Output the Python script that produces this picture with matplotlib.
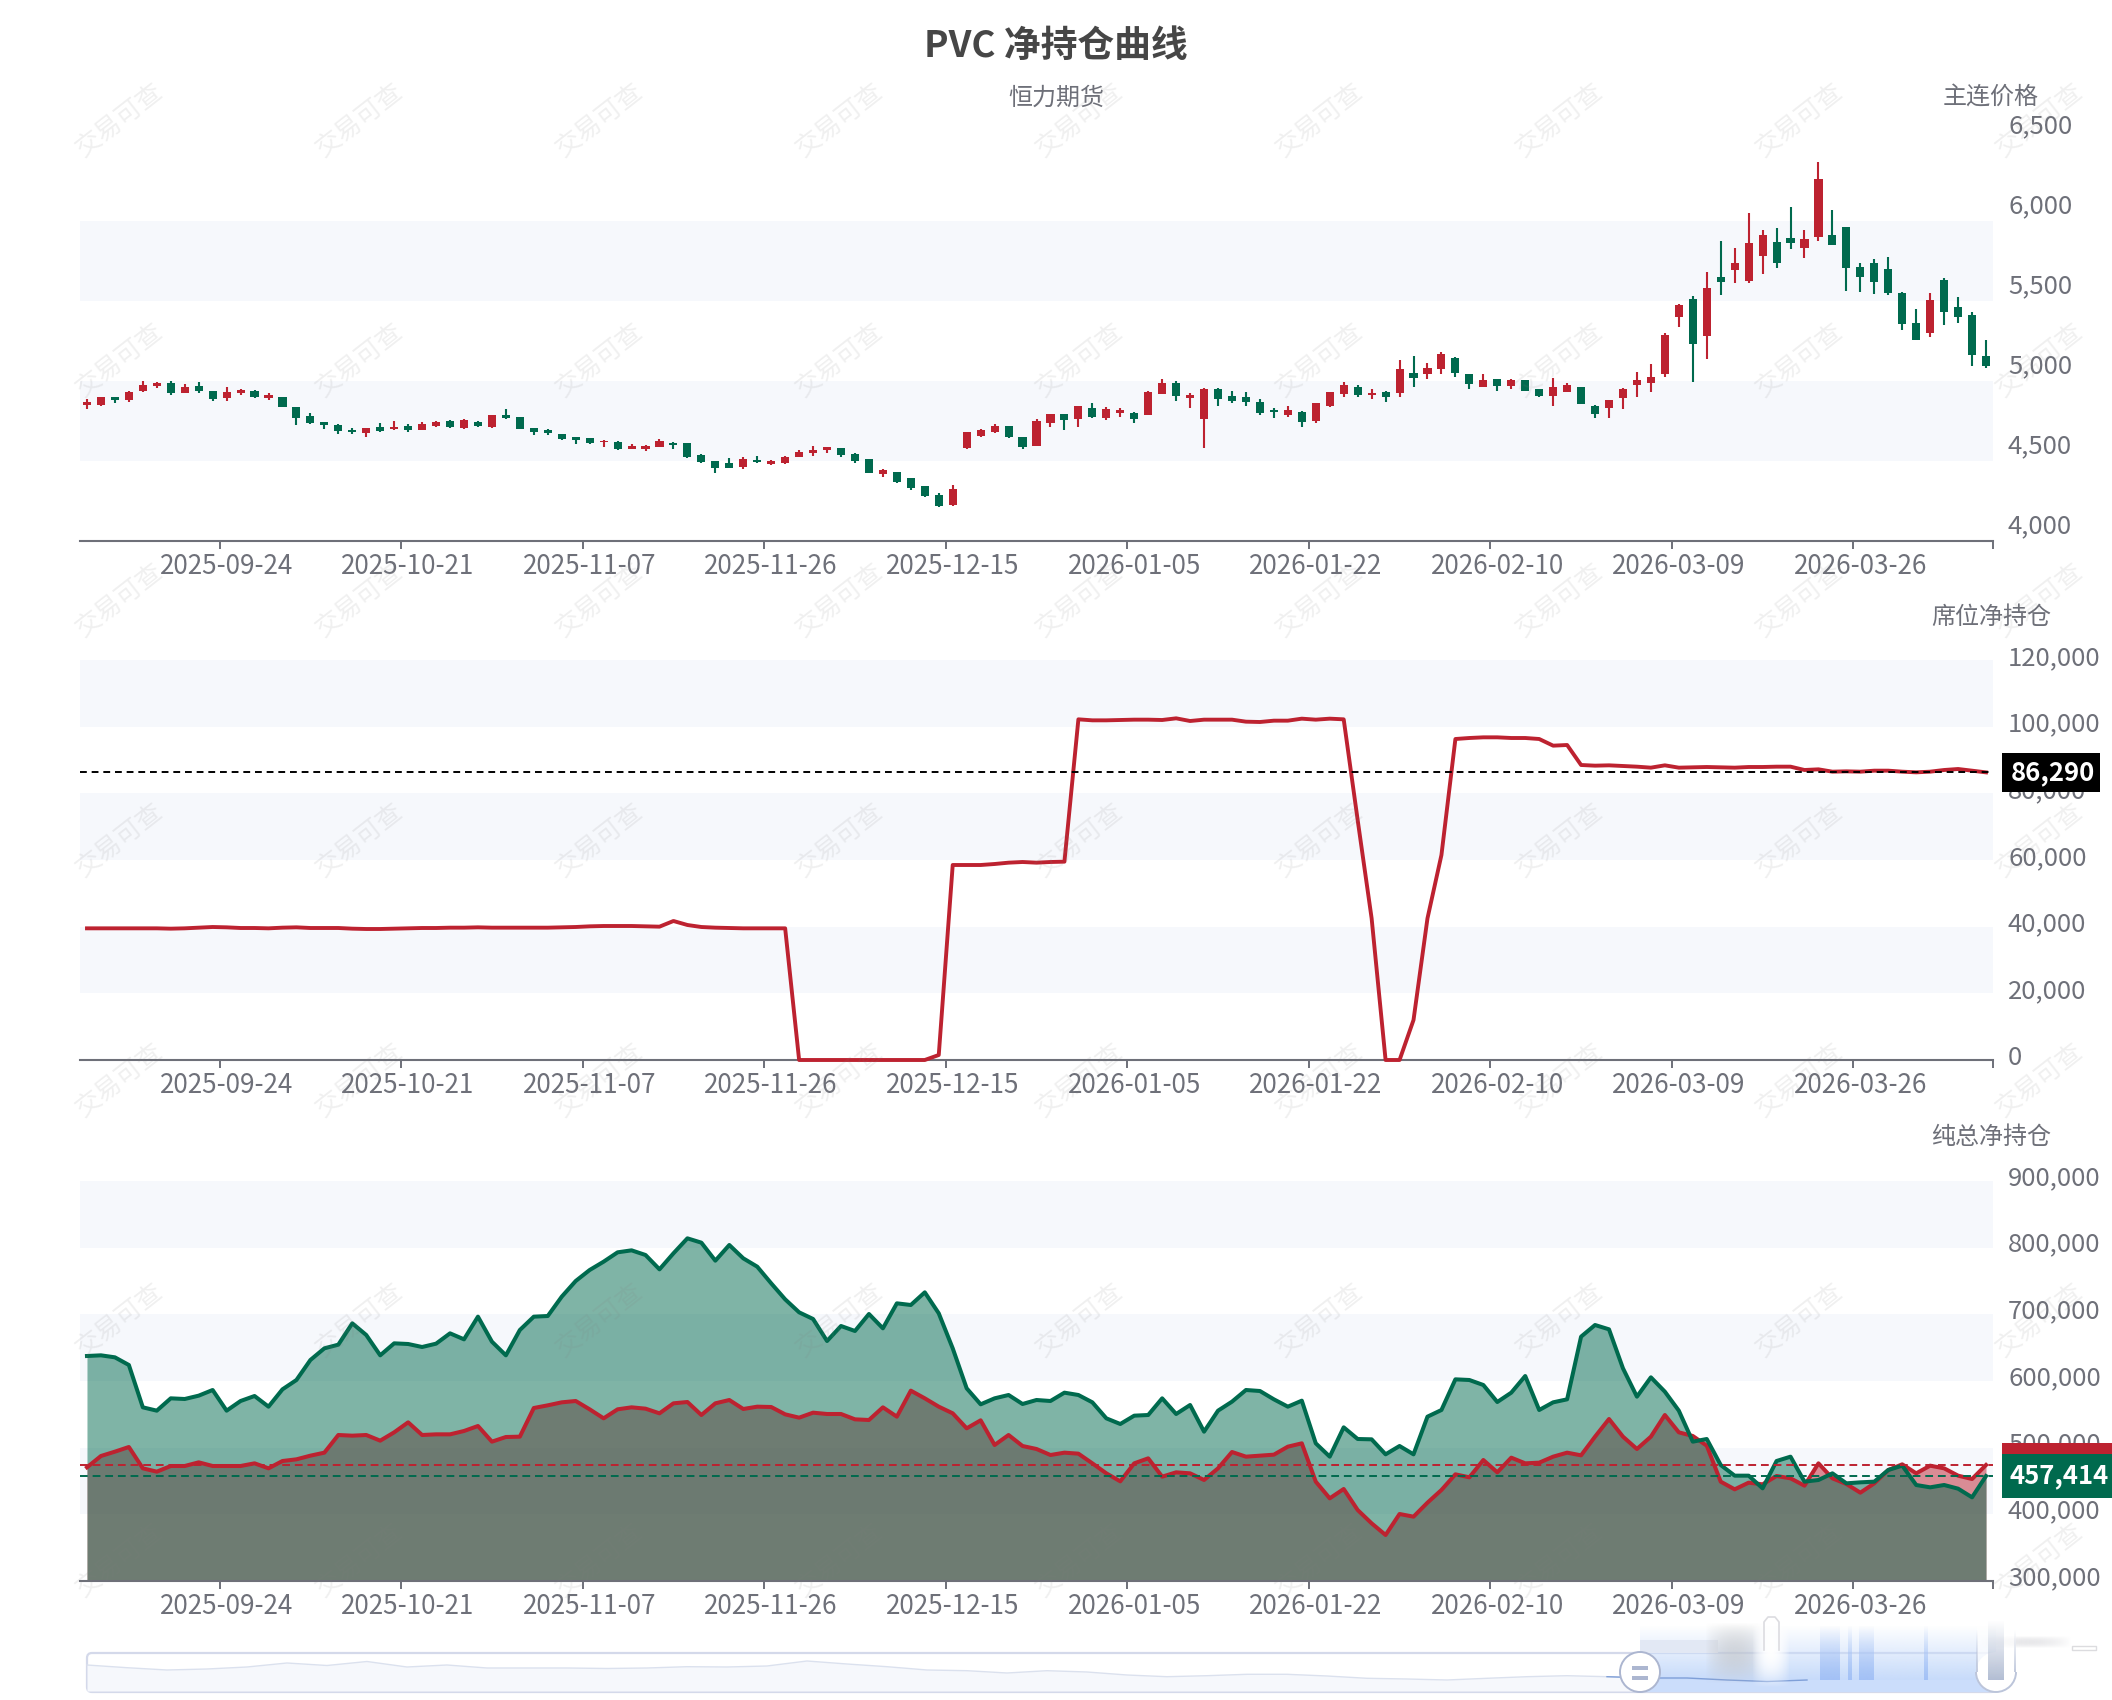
import numpy as np
import matplotlib
matplotlib.use('Agg')
import matplotlib.pyplot as plt
from matplotlib.colors import to_rgb
from matplotlib.patches import Rectangle, FancyBboxPatch, Circle, Arc

plt.rcParams['font.family'] = ['Noto Sans CJK SC', 'DejaVu Sans']

W, H = 2112, 1700
RED = '#bd2230'
GREEN = '#006a4e'
GRAY = '#6e7079'
BAND = '#f6f8fc'

# --- Data ---
tick_idx = [10, 23, 36, 49, 62, 75, 88, 101, 114, 127]
tick_dates = ['2025-09-24', '2025-10-21', '2025-11-07', '2025-11-26', '2025-12-15',
              '2026-01-05', '2026-01-22', '2026-02-10', '2026-03-09', '2026-03-26']

opens = [4850, 4852, 4898, 4881, 4935, 4969, 4990, 4927, 4969, 4938,
         4896, 4923, 4940, 4896, 4898, 4835, 4781, 4742, 4727, 4694,
         4673, 4710, 4698, 4719, 4694, 4719, 4752, 4706, 4744, 4710,
         4785, 4773, 4706, 4694, 4667, 4648, 4642, 4619, 4621, 4577,
         4573, 4590, 4615, 4610, 4540, 4500, 4490, 4462, 4506, 4483,
         4485, 4527, 4552, 4567, 4579, 4542, 4512, 4417, 4429, 4394,
         4342, 4285, 4223, 4579, 4656, 4683, 4719, 4648, 4596, 4735,
         4792, 4760, 4829, 4769, 4798, 4798, 4790, 4919, 4985, 4892,
         4760, 4952, 4904, 4898, 4869, 4821, 4787, 4806, 4748, 4844,
         4919, 4965, 4913, 4929, 4923, 5052, 5044, 5075, 5141, 5044,
         4964, 5010, 4969, 5004, 4948, 4906, 4934, 4963, 4846, 4831,
         4892, 4973, 4990, 5042, 5402, 5513, 5284, 5648, 5694, 5627,
         5781, 5867, 5896, 5829, 5902, 5913, 5963, 5711, 5740, 5702,
         5552, 5365, 5302, 5629, 5461, 5413, 5156]
closes = [4870, 4898, 4881, 4933, 4973, 4988, 4923, 4965, 4938, 4890,
          4931, 4946, 4898, 4910, 4840, 4771, 4735, 4725, 4690, 4679,
          4704, 4688, 4715, 4694, 4731, 4742, 4710, 4756, 4719, 4785,
          4769, 4702, 4681, 4673, 4640, 4631, 4610, 4627, 4573, 4592,
          4596, 4623, 4600, 4523, 4494, 4456, 4456, 4510, 4492, 4500,
          4527, 4558, 4571, 4585, 4540, 4502, 4427, 4444, 4369, 4329,
          4279, 4221, 4327, 4679, 4694, 4719, 4652, 4590, 4748, 4792,
          4756, 4844, 4773, 4825, 4819, 4762, 4933, 4985, 4906, 4910,
          4952, 4887, 4875, 4867, 4802, 4804, 4819, 4746, 4860, 4931,
          4973, 4913, 4927, 4898, 5073, 5019, 5081, 5166, 5052, 4981,
          5006, 4971, 5004, 4937, 4904, 4960, 4975, 4857, 4794, 4881,
          4952, 5006, 5027, 5290, 5477, 5231, 5581, 5621, 5736, 5861,
          5913, 5736, 5861, 5888, 6263, 5852, 5706, 5652, 5617, 5548,
          5356, 5256, 5506, 5429, 5402, 5163, 5094]
highs = [4885, 4898, 4900, 4940, 4998, 4994, 4998, 4979, 4994, 4940,
         4960, 4952, 4942, 4925, 4900, 4837, 4802, 4744, 4729, 4706,
         4706, 4735, 4752, 4729, 4742, 4750, 4754, 4760, 4752, 4790,
         4823, 4777, 4708, 4702, 4669, 4650, 4644, 4629, 4623, 4604,
         4598, 4640, 4617, 4612, 4542, 4502, 4517, 4527, 4531, 4506,
         4529, 4569, 4596, 4587, 4581, 4548, 4515, 4448, 4431, 4396,
         4346, 4298, 4348, 4681, 4700, 4731, 4721, 4650, 4760, 4794,
         4794, 4846, 4860, 4840, 4831, 4806, 4940, 5012, 4998, 4923,
         4954, 4954, 4935, 4929, 4890, 4829, 4846, 4815, 4862, 4933,
         4992, 4973, 4948, 4935, 5131, 5158, 5110, 5183, 5152, 5046,
         5044, 5012, 5012, 5006, 4950, 5016, 4990, 4965, 4848, 4883,
         4956, 5059, 5104, 5302, 5479, 5531, 5684, 5875, 5834, 6052,
         5944, 5954, 6090, 5944, 6371, 6069, 5965, 5736, 5763, 5773,
         5554, 5452, 5548, 5644, 5527, 5429, 5256]
lows = [4825, 4845, 4865, 4868, 4932, 4956, 4910, 4925, 4925, 4877,
        4877, 4915, 4892, 4881, 4838, 4725, 4731, 4702, 4671, 4669,
        4650, 4681, 4696, 4679, 4692, 4712, 4708, 4702, 4712, 4708,
        4760, 4698, 4665, 4662, 4629, 4606, 4608, 4590, 4571, 4575,
        4565, 4588, 4573, 4521, 4485, 4423, 4454, 4452, 4490, 4473,
        4481, 4525, 4533, 4550, 4527, 4490, 4423, 4398, 4365, 4319,
        4277, 4215, 4221, 4575, 4648, 4677, 4642, 4573, 4594, 4710,
        4694, 4710, 4771, 4756, 4777, 4735, 4788, 4917, 4877, 4831,
        4583, 4844, 4860, 4844, 4790, 4771, 4777, 4715, 4740, 4840,
        4902, 4898, 4887, 4867, 4902, 4965, 5015, 5044, 5027, 4948,
        4962, 4939, 4952, 4935, 4902, 4843, 4931, 4855, 4767, 4771,
        4827, 4902, 4934, 5027, 5340, 4994, 5138, 5540, 5611, 5611,
        5667, 5704, 5827, 5767, 5877, 5850, 5565, 5559, 5544, 5540,
        5319, 5254, 5277, 5352, 5361, 5096, 5083]

seat_net = [39500, 39500, 39500, 39500, 39500, 39500, 39400, 39500, 39700, 39900,
            39800, 39600, 39600, 39500, 39700, 39800, 39600, 39600, 39600, 39400,
            39300, 39300, 39400, 39500, 39600, 39600, 39700, 39700, 39800, 39700,
            39700, 39700, 39700, 39700, 39800, 39900, 40100, 40200, 40200, 40200,
            40100, 40000, 41700, 40500, 39900, 39700, 39600, 39500, 39500, 39500,
            39500, 0, 0, 0, 0, 0, 0, 0, 0, 0,
            0, 1500, 58500, 58500, 58500, 58800, 59200, 59400, 59200, 59400,
            59500, 102200, 101900, 101900, 102000, 102100, 102100, 102000, 102500, 101700,
            102100, 102100, 102100, 101500, 101400, 101800, 101800, 102400, 102100, 102400,
            102200, 72000, 42500, 0, 0, 12000, 42500, 61500, 96300, 96600,
            96800, 96800, 96600, 96600, 96300, 94300, 94500, 88500, 88300, 88400,
            88200, 88000, 87700, 88400, 87700, 87800, 87900, 87800, 87700, 87900,
            87900, 88000, 88000, 87000, 87200, 86500, 86600, 86500, 86800, 86800,
            86500, 86300, 86500, 87000, 87300, 86800, 86290]

total_green = [637500, 638500, 635500, 624000, 560500, 555500, 574000, 573000, 578000, 586500,
               555500, 570000, 577500, 561500, 587500, 601500, 631500, 649000, 654500, 686500,
               669000, 638500, 656500, 655500, 651000, 656000, 671500, 662500, 696500, 659000,
               638500, 676500, 696500, 697500, 726500, 750000, 766500, 779000, 793000, 796000,
               789000, 767500, 791500, 814000, 807500, 780500, 804000, 784000, 771500, 746500,
               722500, 703000, 693000, 660000, 682500, 675000, 700500, 679000, 716500, 714000,
               733000, 701500, 649000, 589000, 565000, 574000, 579000, 565500, 571500, 570000,
               582500, 579000, 568000, 544000, 535500, 548000, 549000, 574000, 550500, 564000,
               524000, 555500, 569000, 586500, 585000, 572500, 561500, 570500, 506500, 486500,
               530500, 513000, 512500, 490000, 502500, 490000, 546500, 556500, 602500, 601500,
               594000, 568500, 582500, 607500, 556500, 568000, 572500, 666500, 684000, 677500,
               619000, 576500, 605500, 584000, 555500, 509000, 513000, 474000, 458000, 458000,
               439000, 480000, 486500, 449000, 451500, 461500, 446500, 448000, 449000, 466500,
               473000, 444000, 440500, 444000, 438500, 425500, 457414]
total_red = [470500, 487500, 494000, 501000, 469000, 464000, 472500, 472500, 478000, 472500,
             472500, 472500, 476500, 469000, 480000, 482500, 488000, 492500, 519000, 518000,
             519000, 510500, 523000, 538000, 519000, 520000, 520000, 525000, 532500, 509000,
             516000, 516500, 559500, 563500, 568000, 570000, 557500, 544000, 557500, 560500,
             558500, 551500, 566500, 568500, 549000, 566500, 571500, 558000, 561500, 561000,
             550000, 545000, 552500, 550500, 550500, 542500, 541500, 560500, 546500, 585500,
             574000, 561500, 551500, 529000, 541000, 504000, 519000, 502500, 498000, 489000,
             492500, 491000, 476500, 461500, 449500, 476500, 484000, 456500, 463000, 461500,
             451500, 469000, 493500, 486500, 488000, 489500, 501500, 506500, 449000, 424000,
             438000, 406500, 386500, 369000, 400500, 396500, 417500, 436500, 460000, 455500,
             481500, 463000, 485000, 476500, 477500, 486500, 492500, 488500, 516500, 543000,
             516500, 498000, 516500, 549000, 523000, 517500, 503000, 449000, 437500, 447500,
             445000, 457500, 454000, 443000, 476500, 454000, 445500, 432500, 446500, 466500,
             475000, 461500, 473000, 469000, 458000, 453000, 474000]

# slider preview line, heights above the frame bottom
preview_vals = [27, 24.3, 22, 23, 25, 29, 26.5, 30.5, 25, 27, 24, 24, 24, 23.5, 24,
                25.3, 25, 26, 31, 28, 25.3, 22, 21.3, 19, 21.3, 20, 17, 15.3, 16.3, 17.7,
                17.7, 16, 13.7, 13, 12, 13.7, 15.3, 16.3, 15.3, 14, 14, 12, 10.5, 12]

price_ticks = [4000, 4500, 5000, 5500, 6000, 6500]
seat_ticks = [0, 20000, 40000, 60000, 80000, 100000, 120000]
total_ticks = [300000, 400000, 500000, 600000, 700000, 800000, 900000]

xs = np.arange(len(opens))
fig = plt.figure(figsize=(W / 100, H / 100), dpi=100, facecolor='white')


def make_axes(top, bottom, yticks, label_shift):
    ax = fig.add_axes([80 / W, 1 - bottom / H, 1913 / W, (bottom - top) / H])
    ax.set_xlim(-0.5, len(opens) - 0.5)
    ax.set_ylim(yticks[0], yticks[-1])
    for side in ['top', 'left', 'right']:
        ax.spines[side].set_visible(False)
    ax.spines['bottom'].set_color(GRAY)
    ax.spines['bottom'].set_linewidth(1.5)
    # stripes on every other interval
    for lo, hi in zip(yticks[1::2], yticks[2::2]):
        ax.axhspan(lo, hi, color=BAND, lw=0, zorder=0)
    ax.set_yticks([])
    # ticks sit on the band edge, the date on the band centre
    ax.set_xticks([i - 0.5 for i in tick_idx] + [len(opens) - 0.5], [''] * (len(tick_idx) + 1))
    ax.set_xticks(tick_idx, tick_dates, minor=True)
    ax.tick_params(axis='x', which='major', length=5.8, width=1.4, color=GRAY)
    ax.tick_params(axis='x', which='minor', length=0, pad=8.8, labelsize=18.8, labelcolor=GRAY)
    for v in yticks:
        ax.annotate(f'{v:,}', xy=(1, v), xycoords=ax.get_yaxis_transform(),
                    xytext=(15, label_shift), textcoords='offset pixels',
                    va='center', ha='left', fontsize=18.5, color=GRAY, annotation_clip=False)
    return ax


def end_label(ax, value, text, color, height, width):
    # coloured value flag to the right of the plot
    ax.add_patch(Rectangle((1 + 9 / 1913, value - height / 2), width / 1913, height,
                           transform=ax.get_yaxis_transform(), fc=color, lw=0,
                           clip_on=False, zorder=5))
    ax.annotate(text, xy=(1 + (11 + min(width, 110) / 2) / 1913, value),
                xycoords=ax.get_yaxis_transform(), ha='center', va='center',
                fontsize=18.5, fontweight='bold', color='white', zorder=6, annotation_clip=False)


# --- Price candles ---
ax1 = make_axes(141, 541, price_ticks, 15)
for x, o, c, hi, lo in zip(xs, opens, closes, highs, lows):
    col = RED if c >= o else GREEN
    ax1.vlines(x, lo, hi, color=col, lw=1.5, zorder=2)
    ax1.bar(x, abs(c - o), bottom=min(o, c), width=0.58, color=col, lw=0, zorder=3)

# --- Seat net position ---
ax2 = make_axes(660, 1060, seat_ticks, 2)
ax2.plot(xs, seat_net, color=RED, lw=2.8, zorder=3, solid_joinstyle='round', clip_on=False)
ax2.axhline(seat_net[-1], color='black', lw=1.4, ls=(0, (3.5, 2.5)), zorder=4)
end_label(ax2, seat_net[-1], f'{seat_net[-1]:,}', 'black', 11700, 98)

# --- Total net position, both areas down to the axis ---
ax3 = make_axes(1181, 1581, total_ticks, 3)
ax3.fill_between(xs, total_ticks[0], total_red, color=RED, alpha=0.5, lw=0, zorder=2)
ax3.fill_between(xs, total_ticks[0], total_green, color=GREEN, alpha=0.5, lw=0, zorder=2)
ax3.plot(xs, total_red, color=RED, lw=2.9, zorder=3)
ax3.plot(xs, total_green, color=GREEN, lw=2.9, zorder=3.1)
ax3.axhline(total_red[-1], color=RED, lw=1.4, ls=(0, (4, 2.5)), zorder=4)
ax3.axhline(total_green[-1], color=GREEN, lw=1.4, ls=(0, (4, 2.5)), zorder=4)
end_label(ax3, total_red[-1], f'{total_red[-1]:,}', RED, 66000, 120)
end_label(ax3, total_green[-1], f'{total_green[-1]:,}', GREEN, 66000, 120)
ax3.patches[-1].set_zorder(7)
ax3.texts[-1].set_zorder(8)

# --- Overlay in pixel coordinates: titles, watermark, slider ---
ov = fig.add_axes([0, 0, 1, 1], zorder=10)
ov.set_xlim(0, W)
ov.set_ylim(H, 0)
ov.axis('off')
ov.patch.set_alpha(0)
ov.set_autoscale_on(False)

ov.text(1056, 46.5, 'PVC 净持仓曲线', fontsize=26.5, fontweight='bold', color='#464646',
        ha='center', va='center')
ov.text(1056, 97.5, '恒力期货', fontsize=17.3, color=GRAY, ha='center', va='center')
ov.text(1991, 97.5, '主连价格', fontsize=17.3, color=GRAY, ha='center', va='center')
ov.text(1991, 617, '席位净持仓', fontsize=17.3, color=GRAY, ha='center', va='center')
ov.text(1991, 1137, '纯总净持仓', fontsize=17.3, color=GRAY, ha='center', va='center')

for wy in range(120, 1700, 240):
    for wx in range(120, 2112, 240):
        ov.text(wx, wy, '交易可查', fontsize=18.5, color='#808080', alpha=0.12, rotation=38,
                ha='center', va='center', rotation_mode='anchor', clip_on=True, zorder=20)


def vgrad(x0, x1, y0, y1, color, a0, a1, z):
    arr = np.zeros((64, 1, 4))
    arr[..., :3] = to_rgb(color)
    arr[..., 3] = np.linspace(a0, a1, 64)[:, None]
    ov.imshow(arr, extent=(x0, x1, y1, y0), aspect='auto', zorder=z, interpolation='bilinear')


def blob(x0, x1, y0, y1, color, strength, z):
    # soft smudge, fades out on all four sides
    u = np.sin(np.linspace(0, np.pi, 48)) ** 0.8
    arr = np.zeros((48, 48, 4))
    arr[..., :3] = to_rgb(color)
    arr[..., 3] = strength * np.outer(u, u)
    ov.imshow(arr, extent=(x0, x1, y1, y0), aspect='auto', zorder=z, interpolation='bilinear')


# slider frame and preview
ov.add_patch(FancyBboxPatch((87, 1653), 1909, 39, boxstyle='round,pad=0,rounding_size=5',
                            fc='white', ec='#d4d9ea', lw=1.6, zorder=1))
px = 87 + 40 * np.arange(len(preview_vals))
py = 1692 - np.array(preview_vals)
ov.fill_between(px, py, 1691, color=BAND, lw=0, zorder=2)
ov.plot(px, py, color='#dbe1ee', lw=1.0, zorder=3)

# selected window
vgrad(1640, 1996, 1625, 1680, '#c7dbfb', 0.0, 1.0, 4)
ov.add_patch(Rectangle((1640, 1680), 356, 12, fc='#cbddfb', lw=0, zorder=4))
ov.add_patch(Rectangle((1640, 1640), 78, 13, fc='#e2e8f4', lw=0, zorder=4))
ov.plot(px[38:], py[38:], color='#7f9fd8', lw=1.0, zorder=5)
for bx0, bx1 in [(1820, 1840), (1848, 1852), (1859, 1874), (1924, 1928)]:
    vgrad(bx0, bx1, 1625, 1680, '#a3c1f6', 0.0, 1.0, 5)
blob(1705, 1765, 1622, 1684, '#bcbcbc', 0.5, 5)
blob(1752, 1790, 1608, 1688, 'white', 1.0, 6)
ov.plot([1764, 1764, 1768, 1775, 1779, 1779], [1650, 1622, 1617, 1617, 1622, 1650],
        color='#dcdce0', lw=1.2, zorder=6)

# right handle, mostly a capsule with a grey core
ov.add_patch(Rectangle((1977, 1625), 39, 47, fc='white', lw=0, alpha=0.7, zorder=6))
ov.add_patch(Circle((1996, 1672), 20, fc='white', lw=0, zorder=6))
vgrad(1988, 2004, 1620, 1680, '#b3bed4', 0.0, 1.0, 7)
ov.add_patch(Arc((1996, 1672), 40, 40, theta1=0, theta2=180, ec='#bcc5da', lw=1.4, zorder=8))
vgrad(1976, 1978, 1630, 1672, '#bcc5da', 0.0, 0.9, 8)
vgrad(2014, 2016, 1630, 1672, '#bcc5da', 0.0, 0.9, 8)
blob(1980, 2072, 1636, 1648, '#d8d8dc', 0.6, 5)
ov.add_patch(Rectangle((2072, 1646), 24, 4, fc='white', ec='#dcdcdf', lw=1.0, zorder=6))

# left handle
ov.add_patch(Circle((1640, 1672), 20, fc='white', ec='#acb6d0', lw=1.4, zorder=9))
ov.add_patch(Rectangle((1632, 1666), 16, 4, fc='#acb6d0', lw=0, zorder=10))
ov.add_patch(Rectangle((1632, 1676), 16, 4, fc='#acb6d0', lw=0, zorder=10))

fig.savefig('out.png', dpi=100)
